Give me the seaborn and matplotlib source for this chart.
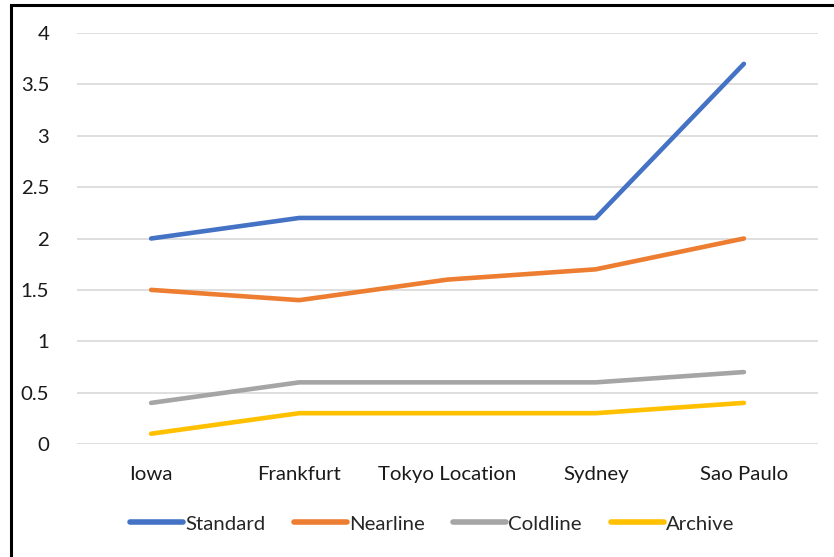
import matplotlib
matplotlib.use("Agg")
import matplotlib.pyplot as plt
import seaborn as sns
import pandas as pd
from matplotlib.patches import Rectangle

# Storage price by region, per class
regions = ["Iowa", "Frankfurt", "Tokyo Location", "Sydney", "Sao Paulo"]
standard = [2.0, 2.2, 2.2, 2.2, 3.7]
nearline = [1.5, 1.4, 1.6, 1.7, 2.0]
coldline = [0.4, 0.6, 0.6, 0.6, 0.7]
archive = [0.1, 0.3, 0.3, 0.3, 0.4]
y_ticks = [0, 0.5, 1, 1.5, 2, 2.5, 3, 3.5, 4]
y_tick_labels = ["0", "0.5", "1", "1.5", "2", "2.5", "3", "3.5", "4"]

series = {"Standard": standard, "Nearline": nearline,
          "Coldline": coldline, "Archive": archive}
palette = {"Standard": "#4472C4", "Nearline": "#ED7D31",
           "Coldline": "#A5A5A5", "Archive": "#FFC000"}

rows = []
for name, vals in series.items():
    for i, v in enumerate(vals):
        rows.append({"pos": i, "region": regions[i], "value": v, "class": name})
df = pd.DataFrame(rows)

sns.set_theme(style="white")
plt.rcParams["font.family"] = ["Lato", "DejaVu Sans"]

FS = 14.7
W, H = 834, 557
fig = plt.figure(figsize=(W / 100, H / 100), dpi=100)
ax = fig.add_axes([77 / W, 1 - 444 / H, 741 / W, (444 - 33) / H])

sns.lineplot(data=df, x="pos", y="value", hue="class", palette=palette,
             hue_order=list(series.keys()), linewidth=3.3, ax=ax,
             solid_capstyle="round", legend=True)

ax.set_xlim(-0.5, len(regions) - 0.5)
ax.set_ylim(0, 4)
ax.set_yticks(y_ticks)
ax.set_yticklabels(y_tick_labels)
ax.set_xticks(range(len(regions)))
ax.set_xticklabels(regions)
ax.grid(axis="y", color="#D9D9D9", linewidth=1.2)
ax.set_axisbelow(True)
for s in ax.spines.values():
    s.set_visible(False)
ax.tick_params(axis="both", length=0, labelsize=FS, colors="#1a1a1a")
ax.tick_params(axis="y", pad=20)
ax.tick_params(axis="x", pad=16)
ax.set_xlabel("")
ax.set_ylabel("")

handles, labels = ax.get_legend_handles_labels()
for h in handles:
    h.set_linewidth(4)
ax.legend(handles, labels, ncol=4, frameon=False, fontsize=FS,
          loc="center", bbox_to_anchor=(432 / W, 1 - 524 / H),
          bbox_transform=fig.transFigure, handlelength=2.6,
          handletextpad=0.1, columnspacing=1.4)

# chart frame
fig.patches.append(Rectangle((11 / W, -0.1), 1.2, 1 - 5 / H + 0.1,
                             transform=fig.transFigure, fill=False,
                             edgecolor="black", linewidth=2.2))

fig.savefig("out.png", dpi=100, facecolor="white")
